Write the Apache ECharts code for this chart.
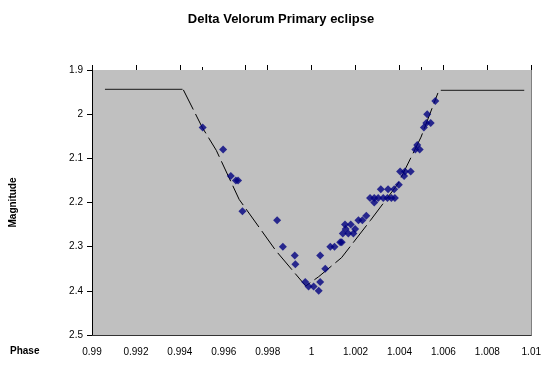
<!DOCTYPE html>
<html>
<head>
<meta charset="utf-8">
<style>
  html, body { margin: 0; padding: 0; background: #ffffff; }
  #chart { width: 544px; height: 365px; }
</style>
<script src="https://cdn.jsdelivr.net/npm/echarts@6/dist/echarts.min.js"></script>
</head>
<body>
<div id="chart"></div>
<script>
// Observed magnitudes of Delta Velorum around primary minimum
const obsPhase = [
  0.99504, 0.99597, 0.99632, 0.99655, 0.99665, 0.99685, 0.99843, 0.99869,
  0.99923, 0.99926, 0.99971, 0.99986, 1.00009, 1.00032, 1.00039, 1.00039,
  1.00062, 1.00085, 1.00104, 1.00130, 1.00137, 1.00142, 1.00152, 1.00155,
  1.00167, 1.00178, 1.00190, 1.00198, 1.00213, 1.00231, 1.00249, 1.00266,
  1.00285, 1.00285, 1.00303, 1.00326, 1.00345, 1.00363, 1.00379, 1.00315,
  1.00348, 1.00376, 1.00397, 1.00403, 1.00421, 1.00425, 1.00451, 1.00472,
  1.00481, 1.00492, 1.00511, 1.00522, 1.00542, 1.00526, 1.00563
];
const obsMag = [
  2.03, 2.08, 2.14, 2.15, 2.15, 2.22, 2.24, 2.30,
  2.32, 2.34, 2.38, 2.39, 2.39, 2.40, 2.38, 2.32,
  2.35, 2.30, 2.30, 2.29, 2.29, 2.27, 2.25, 2.26,
  2.27, 2.25, 2.27, 2.26, 2.24, 2.24, 2.23, 2.19,
  2.19, 2.20, 2.19, 2.19, 2.19, 2.19, 2.19, 2.17,
  2.17, 2.17, 2.16, 2.13, 2.14, 2.13, 2.13, 2.08,
  2.07, 2.08, 2.03, 2.02, 2.02, 2.00, 1.97
];

// Model light curve: out-of-eclipse level and the eclipse profile
const flatLeftPhase = [0.99059, 0.99412];
const flatLeftMag = [1.944, 1.944];
const flatRightPhase = [1.00588, 1.00968];
const flatRightMag = [1.946, 1.946];
const modelPhase = [
  0.99416, 0.99502, 0.99566, 0.99670, 0.99837, 0.99973,
  1.00032, 1.00136, 1.00267, 1.00394, 1.00498, 1.00575
];
const modelMag = [
  1.945, 2.030, 2.082, 2.193, 2.309, 2.389,
  2.368, 2.325, 2.241, 2.157, 2.052, 1.952
];

// Axis ticks along the top edge
const topTicksLong = [0.99, 0.992, 0.994, 0.997, 0.998, 1, 1.002, 1.004, 1.006, 1.008, 1.01];
const topTicksShort = [0.995, 1.005];

const zip = (xs, ys) => xs.map((x, i) => [x, ys[i]]);
const fmt = v => String(parseFloat(v.toFixed(4)));

const chart = echarts.init(document.getElementById('chart'), null, { renderer: 'canvas' });

const gridCommon = { left: 92, right: 10, top: 70, bottom: 30 };
const fontBase = { fontFamily: 'Liberation Sans, Arial, sans-serif', color: '#000' };

chart.setOption({
  animation: false,
  backgroundColor: '#ffffff',
  title: {
    text: 'Delta Velorum Primary eclipse',
    left: 276,
    top: 8,
    textAlign: 'center',
    textStyle: Object.assign({ fontSize: 13, fontWeight: 'bold' }, fontBase)
  },
  grid: Object.assign({
    show: true,
    backgroundColor: '#c0c0c0',
    borderWidth: 0
  }, gridCommon),
  xAxis: [
    {
      // bottom axis: labels and baseline
      type: 'value',
      position: 'bottom',
      min: 0.99, max: 1.01, interval: 0.002,
      axisLine: { show: true, lineStyle: { color: '#333', width: 1 } },
      axisTick: { show: false },
      splitLine: { show: false },
      axisLabel: Object.assign({ fontSize: 10, margin: 12, formatter: fmt }, fontBase)
    },
    {
      // top edge: major tick marks
      type: 'value',
      position: 'top',
      min: 0.99, max: 1.01,
      axisLine: { show: false },
      axisTick: { show: true, length: 5, customValues: topTicksLong, lineStyle: { color: '#000', width: 1 } },
      axisLabel: { show: false },
      splitLine: { show: false }
    },
    {
      // top edge: short tick marks
      type: 'value',
      position: 'top',
      min: 0.99, max: 1.01,
      axisLine: { show: false },
      axisTick: { show: true, length: 3, customValues: topTicksShort, lineStyle: { color: '#000', width: 1 } },
      axisLabel: { show: false },
      splitLine: { show: false }
    }
  ],
  yAxis: [
    {
      type: 'value',
      inverse: true,
      min: 1.9, max: 2.5, interval: 0.1,
      name: 'Magnitude',
      nameLocation: 'middle',
      nameRotate: 90,
      nameGap: 74,
      nameTextStyle: Object.assign({ fontSize: 10, fontWeight: 'bold' }, fontBase),
      axisLine: { show: true, lineStyle: { color: '#000', width: 1 } },
      axisTick: { show: true, length: 5, lineStyle: { color: '#000' } },
      splitLine: { show: false },
      axisLabel: Object.assign({ fontSize: 10, margin: 9, formatter: fmt }, fontBase)
    },
    {
      // right edge of the plot frame
      type: 'value',
      position: 'right',
      inverse: true,
      min: 1.9, max: 2.5,
      axisLine: { show: true, lineStyle: { color: '#808080', width: 1 } },
      axisTick: { show: false },
      axisLabel: { show: false },
      splitLine: { show: false }
    }
  ],
  graphic: [
    {
      type: 'text',
      left: 10,
      top: 346,
      style: { text: 'Phase', fontSize: 10, fontWeight: 'bold', fill: '#000', fontFamily: 'Liberation Sans, Arial, sans-serif' }
    }
  ],
  series: [
    {
      name: 'Model (out of eclipse, before)',
      type: 'line',
      data: zip(flatLeftPhase, flatLeftMag),
      symbol: 'none',
      lineStyle: { color: '#3a3a3a', width: 1.2 },
      silent: true
    },
    {
      name: 'Model (eclipse)',
      type: 'line',
      data: zip(modelPhase, modelMag),
      symbol: 'none',
      lineStyle: { color: '#000', width: 1, type: [22, 5] },
      silent: true
    },
    {
      name: 'Model (out of eclipse, after)',
      type: 'line',
      data: zip(flatRightPhase, flatRightMag),
      symbol: 'none',
      lineStyle: { color: '#3a3a3a', width: 1.2 },
      silent: true
    },
    {
      name: 'Observed',
      type: 'scatter',
      data: zip(obsPhase, obsMag),
      symbol: 'diamond',
      symbolSize: 8,
      itemStyle: { color: '#000080' },
      z: 5
    }
  ]
});
</script>
</body>
</html>
